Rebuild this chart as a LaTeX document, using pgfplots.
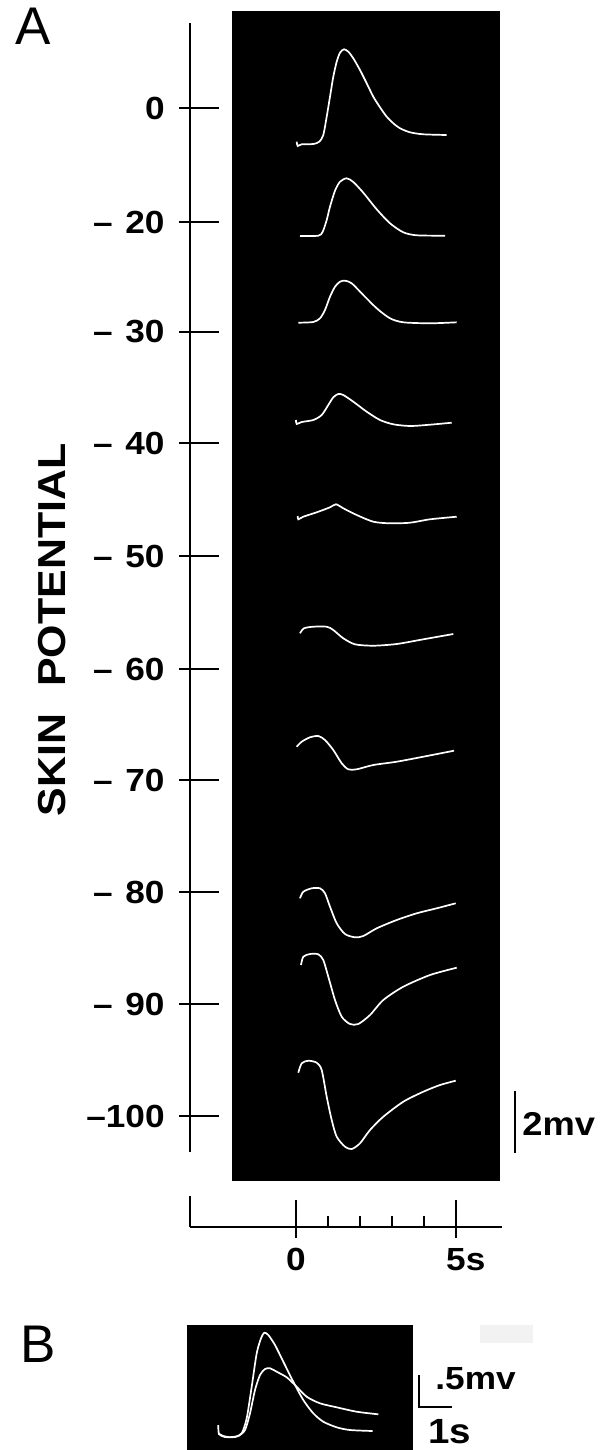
\documentclass[border=0pt]{standalone}
\usepackage{pgfplots}
\pgfplotsset{compat=1.18}
\usepackage{fontspec}
\setmainfont{Liberation Sans}
\newfontfamily\lab[FakeStretch=1.1, Ligatures=TeX]{Liberation Sans}

\pgfplotsset{
  trace/.style={white, line width=0.85pt, smooth, tension=0.45, mark=none},
  pixframe/.style={anchor=south west, x=0.5pt, y=0.5pt, clip=false},
}

\begin{document}
\begin{tikzpicture}
\useasboundingbox (0,0) rectangle (305.5pt,-725pt);

% ---------------- Panel A: skin potential axis + traces ----------------
\begin{axis}[
  pixframe, at={(95pt,-576pt)},
  xmin=190, xmax=502, ymin=-1152, ymax=-23,
  axis x line=none, axis y line=left,
  axis line style={-, line width=1pt, black},
  ytick={-1116,-1004,-892,-780,-669,-556,-443,-332,-222,-108},
  yticklabels={{–100},{–\hspace{.4em}90},{–\hspace{.4em}80},{–\hspace{.4em}70},{–\hspace{.4em}60},{–\hspace{.4em}50},{–\hspace{.4em}40},{–\hspace{.4em}30},{–\hspace{.4em}20},{0}},
  tick align=inside, major tick length=20pt,
  ytick style={line width=1pt, black, xshift=-5.5pt},
  yticklabel style={anchor=east, inner sep=0pt, xshift=-12.5pt,
    font=\fontsize{16}{19}\selectfont\lab\bfseries},
  ylabel={SKIN\hspace{0.7em}POTENTIAL},
  every axis y label/.style={at={(axis description cs:-0.442,0.4624)}, rotate=90, anchor=center,
    font=\fontsize{19.5}{23}\selectfont\lab\bfseries},
]
% black photographic background
\addplot[fill=black, draw=none] coordinates {(232,-11) (500,-11) (500,-1181) (232,-1181)} -- cycle;

% traces (pixel coordinates)
\addplot[trace] coordinates {(296.7,-141.7) (297.7,-146) (301.7,-144.3) (313.3,-144) (319.3,-141.7) (323.3,-135) (326.7,-116.7) (330,-96.7) (333.3,-76.7) (336.7,-61.7) (340,-52.7) (344,-49.3) (348.3,-51.7) (353.3,-58.3) (360,-70) (366.7,-83.3) (373.3,-96.7) (380,-107.3) (386.7,-116.7) (393.3,-123.3) (400,-128.3) (410,-132.3) (423.3,-134.3) (446.7,-135)};
\addplot[trace] coordinates {(300,-236) (318.3,-235.7) (322.7,-231.7) (326.7,-220) (330,-206.7) (335,-190.7) (340,-181.7) (346.7,-178.3) (353.3,-182) (363.3,-192.7) (376.7,-209.3) (390,-223.3) (403.3,-232.3) (416.7,-235.3) (445,-235.7)};
\addplot[trace] coordinates {(298.3,-322.7) (313.3,-322) (320,-318.3) (325,-310) (330,-296.7) (335,-286.7) (340,-281.7) (345,-280.7) (351.7,-283.3) (363.3,-295) (376.7,-308.3) (390,-318.3) (403.3,-322.3) (430,-323.3) (456.7,-322.3)};
\addplot[trace] coordinates {(296,-420) (296.7,-424) (301.7,-422) (313.3,-420) (321.7,-415) (328.3,-405) (333.3,-397.3) (338.3,-394) (343.3,-395) (353.3,-401.7) (366.7,-411.7) (380,-420) (393.3,-424.3) (410,-426) (430,-424.7) (451.7,-422.7)};
\addplot[trace] coordinates {(297.7,-516) (298.3,-519.3) (303.3,-516.7) (316.7,-512.3) (330,-507.3) (336,-504.3) (343.3,-508.3) (356.7,-515) (373.3,-521.7) (390,-523.3) (410,-522.7) (430,-519.3) (456.7,-516.7)};
\addplot[trace] coordinates {(300,-633.3) (304,-628.3) (313.3,-626.7) (326.7,-626.7) (333.3,-630) (343.3,-638.3) (355,-644.3) (373.3,-645.7) (396.7,-644) (423.3,-639.3) (453.3,-634)};
\addplot[trace] coordinates {(296.7,-746.7) (301.7,-741.7) (310,-737.3) (318.3,-736) (325,-740) (333.3,-750) (341.7,-763.3) (348.3,-769.3) (356.7,-769.3) (373.3,-765) (396.7,-761.7) (423.3,-756.7) (454,-750.7)};
\addplot[trace] coordinates {(300,-898.3) (303.3,-891.7) (311.7,-888.3) (320,-888.3) (325,-893.3) (330,-906.7) (336.7,-923.3) (345,-934) (355,-937.3) (363.3,-936) (376.7,-928.3) (396.7,-920) (416.7,-913.3) (436.7,-908.3) (455.7,-903.3)};
\addplot[trace] coordinates {(301,-965) (303.3,-956.7) (310,-954) (318.3,-954.3) (323.3,-960) (328.3,-976.7) (335,-1000) (341.7,-1016.7) (350,-1024) (358.3,-1024) (370,-1015) (383.3,-1000) (403.3,-986.7) (430,-975) (456.7,-967.7)};
\addplot[trace] coordinates {(298.3,-1072.7) (301.7,-1063.3) (308.3,-1060.7) (316.7,-1062.7) (321.7,-1070) (326.7,-1096.7) (331.7,-1120) (336.7,-1136.7) (345,-1146.7) (351.7,-1149) (360,-1143.3) (370,-1130) (383.3,-1116.7) (403.3,-1101.7) (423.3,-1091.7) (440,-1085) (455.7,-1080.7)};

% 2 mV calibration bar
\addplot[black, line width=1.1pt] coordinates {(515,-1091) (515,-1153)};
\node[anchor=west, inner sep=0pt, font=\fontsize{16.5}{20}\selectfont\lab\bfseries] at (axis cs:522,-1124) {2mv};

% panel letters
\node[anchor=north west, inner sep=0pt, font=\fontsize{26.5}{30}\selectfont] at (axis cs:15,-8) {A};
\node[anchor=north west, inner sep=0pt, font=\fontsize{26.5}{30}\selectfont] at (axis cs:20,-1326) {B};
\end{axis}

% ---------------- Panel A: time axis ----------------
\begin{axis}[
  pixframe, at={(95pt,-613.5pt)},
  xmin=190, xmax=502, ymin=-1227, ymax=-1196,
  axis y line=none, axis x line=bottom,
  axis line style={-, line width=1pt, black},
  xtick={296,456}, xticklabels={{0},{5\rlap{s}}},
  minor xtick={328,360,392,424},
  tick align=inside, major tick length=19pt, minor tick length=5.5pt,
  every major tick/.append style={line width=1pt, black, yshift=-5.5pt},
  every minor tick/.append style={line width=1pt, black},
  xticklabel style={anchor=north, inner sep=0pt, yshift=-10.5pt,
    font=\fontsize{16}{19}\selectfont\lab\bfseries},
]
\addplot[black, line width=1pt] coordinates {(190,-1196) (190,-1227)};
\end{axis}

% ---------------- Panel B ----------------
\begin{axis}[
  pixframe, at={(93.5pt,-725pt)},
  xmin=187, xmax=413, ymin=-1450, ymax=-1325,
  hide axis,
]
\addplot[fill=black, draw=none] coordinates {(187,-1325) (413,-1325) (413,-1450) (187,-1450)} -- cycle;
\addplot[fill=black!5, draw=none] coordinates {(480,-1325) (533,-1325) (533,-1343) (480,-1343)} -- cycle;
\addplot[trace] coordinates {(218.3,-1425) (219,-1434) (225,-1437) (235,-1436.7) (241.7,-1433.3) (246.7,-1418.3) (251.7,-1386.7) (256.7,-1353.3) (261,-1338.3) (264.3,-1332.7) (268.3,-1335) (275,-1345) (283.3,-1361.7) (293.3,-1381.7) (303.3,-1400) (313.3,-1413.3) (323.3,-1421.7) (336.7,-1427.3) (350,-1430) (372.7,-1431)};
\addplot[trace] coordinates {(218.3,-1433.3) (223.3,-1436) (231.7,-1437.3) (238.3,-1436) (245,-1430) (250,-1413.3) (255,-1390) (260,-1375) (265,-1369) (270,-1368.3) (276.7,-1371.7) (286.7,-1377.3) (295,-1385) (306.7,-1396.7) (320,-1403.3) (336.7,-1407.3) (356.7,-1411.7) (378.3,-1414.3)};
% calibration: .5 mV and 1 s
\addplot[black, line width=0.9pt] coordinates {(419,-1375) (419,-1407) (452,-1407)};
\node[anchor=west, inner sep=0pt, font=\fontsize{16}{19}\selectfont\lab\bfseries] at (axis cs:435,-1379) {.5mv};
\node[anchor=base west, inner sep=0pt, font=\fontsize{17.5}{21}\selectfont\lab\bfseries] at (axis cs:428,-1443) {1s};
\end{axis}
\end{tikzpicture}
\end{document}
